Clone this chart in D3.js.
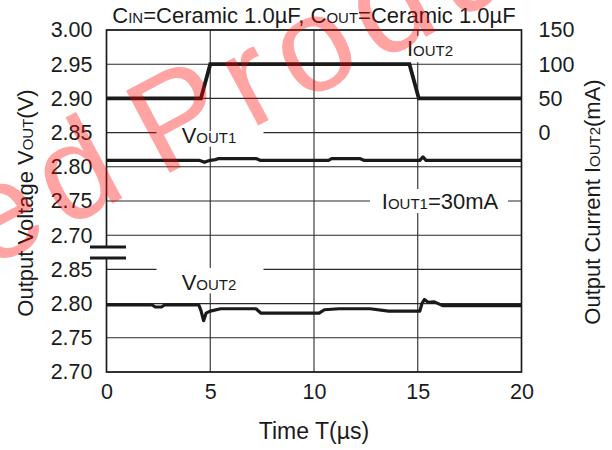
<!DOCTYPE html>
<html><head><meta charset="utf-8">
<script src="https://cdn.jsdelivr.net/npm/d3@7/dist/d3.min.js"></script>
<style>
body{margin:0;background:#fff;}
svg{display:block;font-family:"Liberation Sans",Arial,sans-serif;}
</style></head>
<body>
<svg id="chart" width="612" height="450"></svg>
<script>
// ---- data ----
const xTicks = [0, 5, 10, 15, 20];
const upperTicks = [3.00, 2.95, 2.90, 2.85, 2.80, 2.75, 2.70];
const lowerTicks = [2.85, 2.80, 2.75, 2.70];
const currentTicks = [150, 100, 50, 0];

const timeI = [0, 4.55, 5.0, 14.6, 15.05, 20];
const iout2 = [50, 50, 100, 100, 50, 50];

const timeV1 = [0, 4.45, 4.6, 4.72, 4.85, 5.0, 5.25, 5.4, 7.2, 7.4, 10.7, 10.85, 12.2, 12.4, 15.1, 15.25, 15.4, 20];
const vout1  = [2.8095, 2.8095, 2.808, 2.8065, 2.808, 2.8095, 2.8105, 2.812, 2.812, 2.8095, 2.8095, 2.812, 2.812, 2.8095, 2.8095, 2.8145, 2.8095, 2.8095];

const timeV2 = [0, 2.2, 2.35, 2.65, 2.8, 4.45, 4.55, 4.68, 4.8, 5.0, 5.5, 7.2, 7.45, 10.25, 10.5, 11.2, 12.7, 13.6, 15.1, 15.2, 15.32, 15.5, 15.8, 16.2, 20];
const vout2  = [2.798, 2.798, 2.795, 2.795, 2.798, 2.798, 2.790, 2.775, 2.786, 2.789, 2.7925, 2.7925, 2.786, 2.786, 2.791, 2.7925, 2.7925, 2.789, 2.789, 2.800, 2.806, 2.802, 2.8025, 2.797, 2.797];

// ---- layout ----
const svg = d3.select("#chart");
const L = 106.5, R = 521.5, T = 30, B = 372;
const band = (B - T) / 10;
const x = d3.scaleLinear().domain([0, 20]).range([L, R]);
const yU = d3.scaleLinear().domain([2.70, 3.00]).range([T + 6 * band, T]);
const yL = d3.scaleLinear().domain([2.70, 2.85]).range([B, T + 7 * band]);
const yI = d3.scaleLinear().domain([0, 150]).range([yU(2.85), yU(3.00)]);

const ink = "#1a1a1a";
const FS = 21.5;   // tick labels
const FT = 22;     // titles / annotations
const FSM = 15;    // small caps

// grid
const g = svg.append("g");
g.selectAll("line.vg").data(xTicks).join("line")
  .attr("x1", d => x(d)).attr("x2", d => x(d)).attr("y1", T).attr("y2", B)
  .attr("stroke", "#2a2a2a").attr("stroke-width", 1.1);
g.selectAll("line.hu").data(upperTicks).join("line")
  .attr("x1", L).attr("x2", R).attr("y1", d => yU(d)).attr("y2", d => yU(d))
  .attr("stroke", "#2a2a2a").attr("stroke-width", 1.1);
g.selectAll("line.hl").data(lowerTicks).join("line")
  .attr("x1", L).attr("x2", R).attr("y1", d => yL(d)).attr("y2", d => yL(d))
  .attr("stroke", "#2a2a2a").attr("stroke-width", 1.1);

// label background boxes (gaps in grid)
const boxes = [
  {x0: 156.5, x1: 263.5, y0: yU(2.85) - 1.5, y1: yU(2.85) + 14},
  {x0: 156.5, x1: 263.5, y0: yL(2.85) - 1.5, y1: yL(2.85) + 24},
  {x0: 370, x1: 508, y0: yU(2.75) - 12, y1: yU(2.75) + 12},
  {x0: 400, x1: 462, y0: 36, y1: yU(2.95) - 2}
];
g.selectAll("rect.bx").data(boxes).join("rect")
  .attr("x", d => d.x0).attr("y", d => d.y0)
  .attr("width", d => d.x1 - d.x0).attr("height", d => d.y1 - d.y0)
  .attr("fill", "#fff");

// border
svg.append("rect").attr("x", L).attr("y", T).attr("width", R - L).attr("height", B - T)
  .attr("fill", "none").attr("stroke", ink).attr("stroke-width", 1.6);

// lines
const lineV1 = d3.line().x(i => x(timeV1[i])).y(i => yU(vout1[i]));
const lineV2 = d3.line().x(i => x(timeV2[i])).y(i => yL(vout2[i]));
const lineI = d3.line().x(i => x(timeI[i])).y(i => yI(iout2[i]));
svg.append("path").attr("d", lineV1(d3.range(timeV1.length)))
  .attr("fill", "none").attr("stroke", ink).attr("stroke-width", 3.2).attr("stroke-linejoin", "round");
svg.append("path").attr("d", lineV2(d3.range(timeV2.length)))
  .attr("fill", "none").attr("stroke", ink).attr("stroke-width", 3.2).attr("stroke-linejoin", "round");
svg.append("path").attr("d", lineI(d3.range(timeI.length)))
  .attr("fill", "none").attr("stroke", ink).attr("stroke-width", 3.8).attr("stroke-linejoin", "miter");

// axis break
const brkY0 = 247, brkY1 = 258;
svg.append("rect").attr("x", L - 3).attr("y", brkY0).attr("width", 6).attr("height", brkY1 - brkY0).attr("fill", "#fff");
svg.selectAll("line.brk").data([brkY0, brkY1]).join("line")
  .attr("x1", 90).attr("x2", 126).attr("y1", d => d).attr("y2", d => d)
  .attr("stroke", ink).attr("stroke-width", 3);

// axes tick labels
function styleTicks(s) {
  s.select(".domain").remove();
  s.selectAll("text").attr("font-size", FS).attr("font-family", "Liberation Sans, Arial").attr("fill", ink);
}
svg.append("g").attr("transform", `translate(0,${B})`)
  .call(d3.axisBottom(x).tickValues(xTicks).tickSize(0).tickPadding(12).tickFormat(d3.format("d")))
  .call(styleTicks);
svg.append("g").attr("transform", `translate(${L},0)`)
  .call(d3.axisLeft(yU).tickValues(upperTicks).tickSize(0).tickPadding(14).tickFormat(d3.format(".2f")))
  .call(styleTicks);
svg.append("g").attr("transform", `translate(${L},0)`)
  .call(d3.axisLeft(yL).tickValues(lowerTicks).tickSize(0).tickPadding(14).tickFormat(d3.format(".2f")))
  .call(styleTicks);
svg.append("g").attr("transform", `translate(${R},0)`)
  .call(d3.axisRight(yI).tickValues(currentTicks).tickSize(0).tickPadding(17).tickFormat(d3.format("d")))
  .call(styleTicks);

// rich text helper: parts = [[text, small?], ...]
function rich(sel, parts, attrs) {
  const t = sel.append("text").attr("font-size", FT).attr("fill", ink);
  Object.entries(attrs).forEach(([k, v]) => t.attr(k, v));
  parts.forEach(([s, small]) => t.append("tspan").text(s).attr("font-size", small ? FSM : FT));
  return t;
}

// title
rich(svg, [["C"], ["IN", 1], ["=Ceramic 1.0µF, C"], ["OUT", 1], ["=Ceramic 1.0µF"]],
  {x: (L + R) / 2 + 0, y: 23, "text-anchor": "middle"});

// axis titles
svg.append("text").text("Time T(µs)").attr("x", (L + R) / 2).attr("y", 439)
  .attr("text-anchor", "middle").attr("font-size", FT + 1).attr("fill", ink);
rich(svg, [["Output Voltage V"], ["OUT", 1], ["(V)"]],
  {transform: `translate(33,${203}) rotate(-90)`, "text-anchor": "middle"});
rich(svg, [["Output Current I"], ["OUT2", 1], ["(mA)"]],
  {transform: `translate(600,${202}) rotate(-90)`, "text-anchor": "middle"});

// in-plot labels
rich(svg, [["V"], ["OUT1", 1]], {x: 209, y: yU(2.85) + 10, "text-anchor": "middle"});
rich(svg, [["V"], ["OUT2", 1]], {x: 209, y: yL(2.85) + 21, "text-anchor": "middle"});
rich(svg, [["I"], ["OUT1", 1], ["=30mA"]], {x: 440, y: yU(2.75) + 7.5, "text-anchor": "middle"});
rich(svg, [["I"], ["OUT2", 1]], {x: 430, y: 56, "text-anchor": "middle"});

// watermark
const wm = svg.append("g").attr("transform", "translate(160,178) rotate(-28)")
  .attr("fill", "#ff0000").attr("fill-opacity", 0.36).attr("font-size", 135)
  .attr("letter-spacing", 12);
wm.append("text").text("Discontinued").attr("x", -22).attr("text-anchor", "end");
wm.append("text").text("Product").attr("x", 0);
</script>
</body></html>
